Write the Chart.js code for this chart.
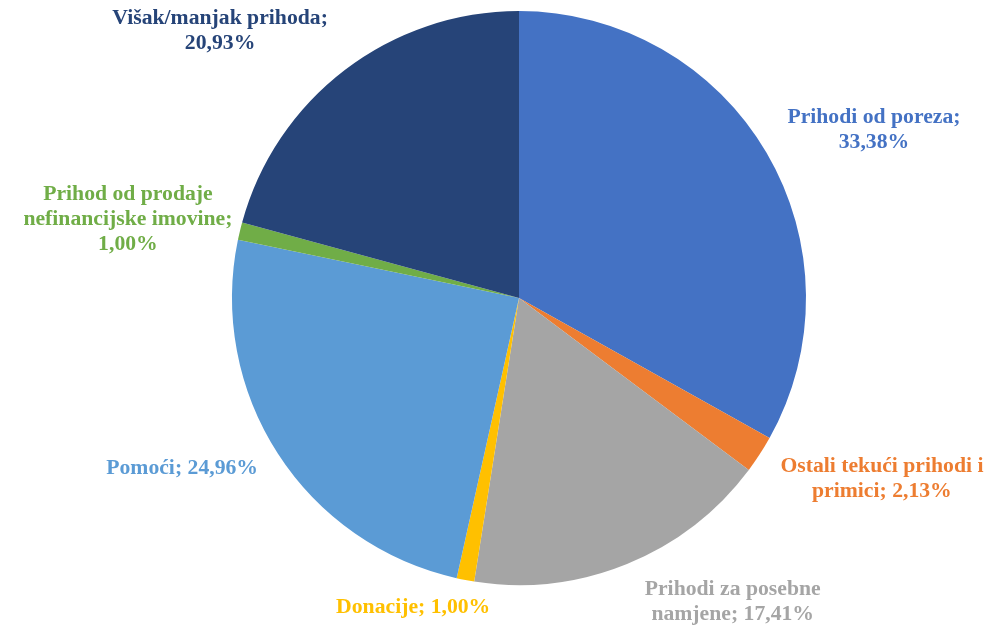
<!DOCTYPE html>
<html>
<head>
<meta charset="utf-8">
<script src="https://cdn.jsdelivr.net/npm/chart.js@4/dist/chart.umd.min.js"></script>
<style>
  html, body { margin: 0; padding: 0; background: #fff; }
  #wrap { width: 985px; height: 628px; }
</style>
</head>
<body>
<div id="wrap"><canvas id="chart" width="985" height="628"></canvas></div>
<script>
const categories = [
  'Prihodi od poreza',
  'Ostali tekući prihodi i primici',
  'Prihodi za posebne namjene',
  'Donacije',
  'Pomoći',
  'Prihod od prodaje nefinancijske imovine',
  'Višak/manjak prihoda'
];
const shares = [33.38, 2.13, 17.41, 1.00, 24.96, 1.00, 20.93];
const sliceColors = ['#4472C4', '#ED7D31', '#A5A5A5', '#FFC000', '#5B9BD5', '#70AD47', '#264478'];

// how each label is broken into lines (same wrapping as the original)
const labelLines = [
  ['Prihodi od poreza;', '{v}'],
  ['Ostali tekući prihodi i', 'primici; {v}'],
  ['Prihodi za posebne', 'namjene; {v}'],
  ['Donacije; {v}'],
  ['Pomoći; {v}'],
  ['Prihod od prodaje', 'nefinancijske imovine;', '{v}'],
  ['Višak/manjak prihoda;', '{v}']
];
// label placement: angle (deg, clockwise from top) and distance in radii
const labelPlace = [
  [64.7, 1.368], [116.5, 1.413], [144.9, 1.295], [198.9, 1.138],
  [243.2, 1.315], [281.4, 1.39], [311.8, 1.397]
];

const fmt = (v) => v.toFixed(2).replace('.', ',') + '%';

const outsideLabels = {
  id: 'outsideLabels',
  afterDatasetsDraw(chart) {
    const ctx = chart.ctx;
    const arc = chart.getDatasetMeta(0).data[0];
    const cx = arc.x, cy = arc.y, r = arc.outerRadius;
    ctx.save();
    ctx.font = 'bold 21.7px "Liberation Serif", "Times New Roman", serif';
    ctx.textAlign = 'center';
    ctx.textBaseline = 'middle';
    const lh = 25;
    shares.forEach((v, i) => {
      const [deg, f] = labelPlace[i];
      const a = deg * Math.PI / 180;
      const x = cx + Math.sin(a) * r * f;
      const y = cy - Math.cos(a) * r * f;
      const lines = labelLines[i].map(s => s.replace('{v}', fmt(v)));
      ctx.fillStyle = sliceColors[i];
      lines.forEach((ln, k) => {
        ctx.fillText(ln, x, y + (k - (lines.length - 1) / 2) * lh);
      });
    });
    ctx.restore();
  }
};

new Chart(document.getElementById('chart').getContext('2d'), {
  type: 'pie',
  data: {
    labels: categories,
    datasets: [{
      data: shares,
      backgroundColor: sliceColors,
      borderWidth: 0,
      hoverOffset: 0
    }]
  },
  options: {
    responsive: false,
    animation: false,
    events: [],
    layout: { padding: { top: 11, bottom: 43, left: 232, right: 179 } },
    plugins: {
      legend: { display: false },
      tooltip: { enabled: false }
    }
  },
  plugins: [outsideLabels]
});
</script>
</body>
</html>
